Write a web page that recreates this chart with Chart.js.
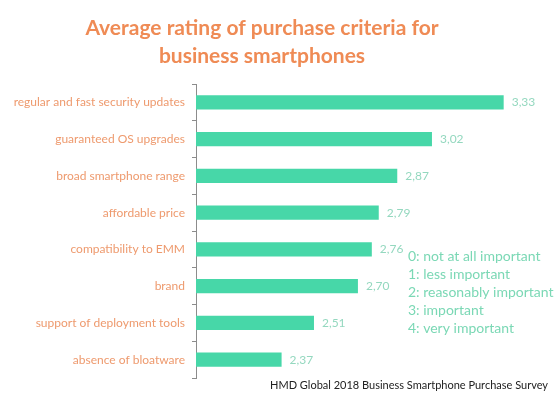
<!DOCTYPE html>
<html>
<head>
<meta charset="utf-8">
<script src="https://cdn.jsdelivr.net/npm/chart.js@4"></script>
<style>
html,body{margin:0;padding:0;background:#fff;}
#wrap{position:relative;width:558px;height:393px;}
</style>
</head>
<body>
<div id="wrap"><canvas id="c" width="558" height="393"></canvas></div>
<script>
const categories = [
  "regular and fast security updates",
  "guaranteed OS upgrades",
  "broad smartphone range",
  "affordable price",
  "compatibility to EMM",
  "brand",
  "support of deployment tools",
  "absence of bloatware"
];
const ratings = [3.33, 3.02, 2.87, 2.79, 2.76, 2.70, 2.51, 2.37];
const titleLines = ["Average rating of purchase criteria for", "business smartphones"];
const scaleNotes = [
  "0: not at all important",
  "1: less important",
  "2: reasonably important",
  "3: important",
  "4: very important"
];
const sourceText = "HMD Global 2018 Business Smartphone Purchase Survey";

const FONT = "Lato, 'Open Sans', sans-serif";

const textPlugin = {
  id: 'texts',
  afterDraw(chart) {
    const ctx = chart.ctx;
    ctx.save();
    // title
    ctx.fillStyle = '#EF8B55';
    ctx.font = 'bold 21px ' + FONT;
    ctx.textAlign = 'center';
    ctx.textBaseline = 'middle';
    ctx.fillText(titleLines[0], 262, 28);
    ctx.fillText(titleLines[1], 262, 56);
    // value labels
    const meta = chart.getDatasetMeta(0);
    ctx.font = '12px ' + FONT;
    ctx.fillStyle = '#94D8BF';
    ctx.textAlign = 'left';
    meta.data.forEach((bar, i) => {
      ctx.fillText(ratings[i].toFixed(2).replace('.', ','), bar.x + 8, bar.y);
    });
    // scale notes
    ctx.font = '14px ' + FONT;
    ctx.fillStyle = '#7BD8B5';
    scaleNotes.forEach((t, i) => {
      ctx.fillText(t, 408, 256 + i * 18);
    });
    // source
    ctx.font = '11px ' + FONT;
    ctx.fillStyle = '#222';
    ctx.textAlign = 'right';
    ctx.fillText(sourceText, 548, 385);
    ctx.restore();
  }
};

new Chart(document.getElementById('c'), {
  type: 'bar',
  data: {
    labels: categories,
    datasets: [{
      data: ratings,
      backgroundColor: '#47D7A8',
      borderWidth: 0,
      categoryPercentage: 1,
      barPercentage: 0.39
    }]
  },
  options: {
    indexAxis: 'y',
    responsive: false,
    animation: false,
    layout: { padding: { top: 84, bottom: 15, right: 15, left: 0 } },
    plugins: { legend: { display: false }, tooltip: { enabled: false }, title: { display: false } },
    scales: {
      x: { display: false, min: 2, max: 3.5 },
      y: {
        afterFit(scale) { scale.width = 196; },
        border: { display: true, color: '#8c8c8c', width: 1 },
        grid: { display: true, offset: true, drawOnChartArea: false, tickLength: 4, color: '#8c8c8c' },
        ticks: { color: '#EE9A6E', font: { family: FONT, size: 12 }, padding: 7 }
      }
    }
  },
  plugins: [textPlugin]
});
</script>
</body>
</html>
